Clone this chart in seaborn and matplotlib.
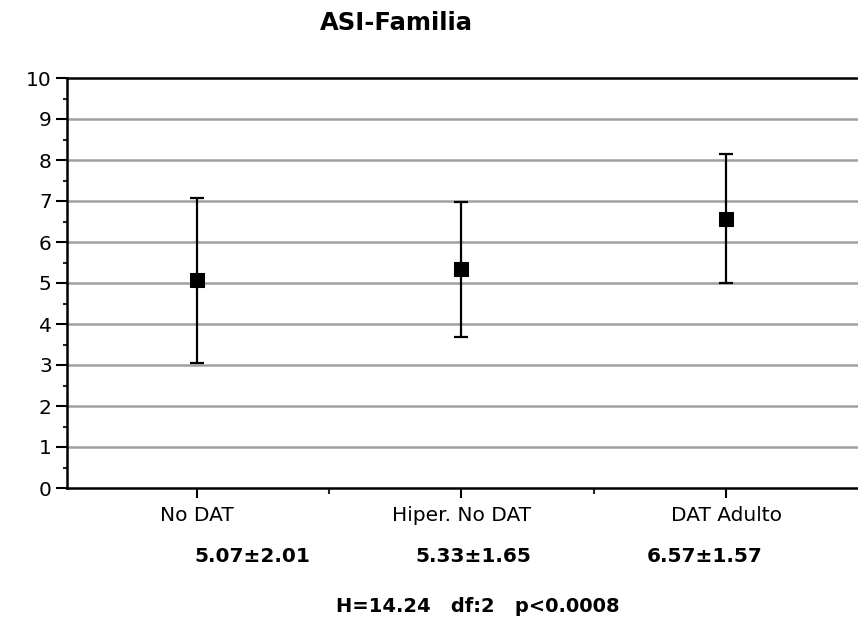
import matplotlib
matplotlib.use("Agg")
import matplotlib.pyplot as plt
from matplotlib.ticker import MultipleLocator, FixedLocator
import seaborn as sns
import pandas as pd

categories = ["No DAT", "Hiper. No DAT", "DAT Adulto"]
means = [5.07, 5.33, 6.57]
sds = [2.01, 1.65, 1.57]
stat_labels = ["5.07±2.01", "5.33±1.65", "6.57±1.57"]
title = "ASI-Familia"
footer = "H=14.24   df:2   p<0.0008"

df = pd.DataFrame({"grupo": categories, "media": means, "de": sds})

sns.set_theme(style="white")
plt.rcParams['font.family'] = ['DejaVu Sans']

fig = plt.figure(figsize=(8.58, 6.24), dpi=100)
ax = fig.add_axes([67/858, (624-488)/624, 1.0 - 67/858 + 0.01, (488-78)/624])

ax.errorbar(range(len(df)), df["media"], yerr=df["de"], fmt="none",
            ecolor="black", elinewidth=1.6, capsize=5, capthick=1.6, zorder=3)
sns.scatterplot(data=df, x="grupo", y="media", marker="s", s=90, color="black",
                edgecolor="black", ax=ax, zorder=4, legend=False)

ax.set_ylim(0, 10)
ax.set_xlim(-0.49, 2.53)
ax.yaxis.set_major_locator(MultipleLocator(1))
ax.yaxis.set_minor_locator(MultipleLocator(0.5))
ax.set_xticks(range(len(categories)))
ax.set_xticklabels(categories)
ax.xaxis.set_minor_locator(FixedLocator([0.5, 1.5]))

for y in range(1, 10):
    ax.axhline(y, color="#a0a0a0", lw=1.8, zorder=1)

ax.spines["right"].set_visible(False)
for side in ["left", "bottom", "top"]:
    ax.spines[side].set_color("black")
    ax.spines[side].set_linewidth(1.8)

ax.tick_params(axis="y", which="major", direction="out", length=8, width=1.5,
               left=True, labelsize=14.5, colors="black", pad=3)
ax.tick_params(axis="y", which="minor", direction="out", length=3, width=1.5, left=True)
ax.tick_params(axis="x", which="major", direction="out", length=7, width=1.5,
               bottom=True, labelsize=14.5, colors="black", pad=6)
ax.tick_params(axis="x", which="minor", direction="out", length=4, width=1.5, bottom=True)
ax.set_xlabel("")
ax.set_ylabel("")

fig.text(396/858, 1 - 23/624, title, ha="center", va="center", fontsize=17.5,
         fontweight="bold", color="black")

stat_x = [252, 473, 705]
for sx, lab in zip(stat_x, stat_labels):
    fig.text(sx/858, 1 - 556/624, lab, ha="center", va="center", fontsize=14.5,
             fontweight="bold", color="black")
fig.text(478/858, 1 - 607/624, footer, ha="center", va="center", fontsize=14,
         fontweight="bold", color="black")

fig.savefig("out.png", dpi=100)
